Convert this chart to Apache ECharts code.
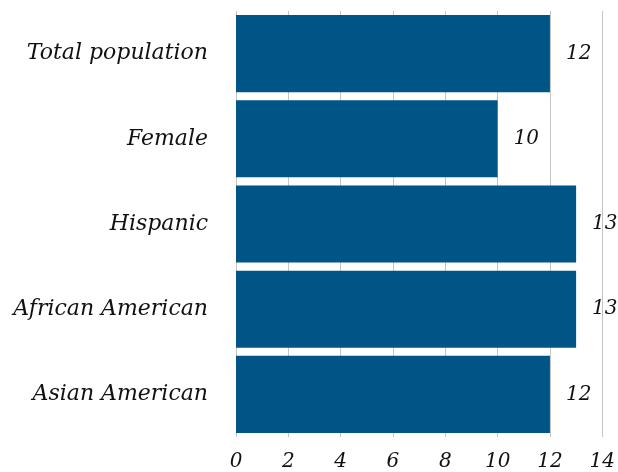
<!DOCTYPE html>
<html>
<head>
<meta charset="utf-8">
<script src="https://cdn.jsdelivr.net/npm/echarts@6/dist/echarts.min.js"></script>
<style>
  html, body { margin: 0; padding: 0; background: #fff; }
  #chart { width: 618px; height: 472px; }
</style>
</head>
<body>
<div id="chart"></div>
<script>
// Group labels, top to bottom
const categories = ['Total population', 'Female', 'Hispanic', 'African American', 'Asian American'];
// Value for each group
const values = [12, 10, 13, 13, 12];
// Horizontal axis range
const axisMin = 0;
const axisMax = 14;
const axisStep = 2;

const serif = 'DejaVu Serif';

const chart = echarts.init(document.getElementById('chart'), null, { renderer: 'canvas' });
chart.setOption({
  animation: false,
  backgroundColor: '#ffffff',
  grid: { left: 236, right: 15, top: 11, bottom: 29, containLabel: false },
  xAxis: {
    type: 'value',
    min: axisMin,
    max: axisMax,
    interval: axisStep,
    axisLine: { show: false },
    axisTick: { show: false },
    splitLine: { show: true, lineStyle: { color: '#c4c4c4', width: 1 } },
    axisLabel: {
      margin: 15,
      fontFamily: serif,
      fontStyle: 'italic',
      fontSize: 20,
      color: '#111'
    }
  },
  yAxis: {
    type: 'category',
    data: categories,
    inverse: true,
    axisLine: { show: false },
    axisTick: { show: false },
    splitLine: { show: false },
    axisLabel: {
      margin: 28,
      fontFamily: serif,
      fontStyle: 'italic',
      fontSize: 22,
      color: '#111'
    }
  },
  series: [{
    type: 'bar',
    data: values,
    barCategoryGap: '9.5%',
    itemStyle: { color: '#005587' },
    label: {
      show: true,
      position: 'right',
      distance: 16,
      fontFamily: serif,
      fontStyle: 'italic',
      fontSize: 20,
      color: '#111'
    }
  }]
});
</script>
</body>
</html>
